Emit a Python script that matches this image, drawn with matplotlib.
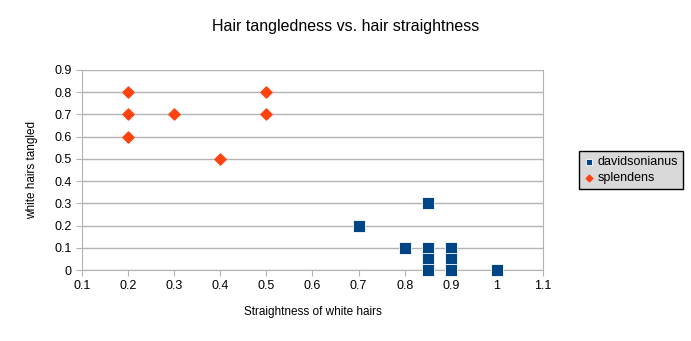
import numpy as np
import matplotlib.pyplot as plt

plt.rcParams['font.family'] = ['Liberation Sans', 'DejaVu Sans']

dav_x = [0.7, 0.8, 0.85, 0.85, 0.85, 0.85, 0.9, 0.9, 0.9, 1.0]
dav_y = [0.2, 0.1, 0.3, 0.1, 0.05, 0.0, 0.1, 0.05, 0.0, 0.0]
spl_x = [0.2, 0.2, 0.2, 0.3, 0.4, 0.5, 0.5]
spl_y = [0.8, 0.7, 0.6, 0.7, 0.5, 0.8, 0.7]

xticks = [0.1, 0.2, 0.3, 0.4, 0.5, 0.6, 0.7, 0.8, 0.9, 1, 1.1]
yticks = [0, 0.1, 0.2, 0.3, 0.4, 0.5, 0.6, 0.7, 0.8, 0.9]

fig = plt.figure(figsize=(6.91, 3.41), dpi=100)
ax = fig.add_axes([0.1187, 0.208, 0.667, 0.587])

ax.scatter(dav_x, dav_y, marker='s', s=64, color='#004586', edgecolors='white',
           linewidths=0.6, label='davidsonianus', zorder=3, clip_on=False)
ax.scatter(spl_x, spl_y, marker='D', s=32, color='#ff420e', label='splendens', zorder=3, clip_on=False)

ax.set_xlim(0.1, 1.1)
ax.set_ylim(0, 0.9)
ax.set_xticks(xticks)
ax.set_xticklabels([str(t) for t in xticks])
ax.set_yticks(yticks)
ax.set_yticklabels([str(t) for t in yticks])
ax.yaxis.grid(True, color='#b3b3b3', linewidth=1)
ax.set_axisbelow(True)
ax.spines['top'].set_visible(False)
for s in ['left', 'bottom', 'right']:
    ax.spines[s].set_color('#b3b3b3')
ax.tick_params(colors='#b3b3b3', labelcolor='black', labelsize=9, length=4)

ax.set_xlabel('Straightness of white hairs', fontsize=8.5, labelpad=10)
ax.set_ylabel('white hairs tangled', fontsize=8.5, labelpad=12)
fig.suptitle('Hair tangledness vs. hair straightness', fontsize=11.5, y=0.945)

leg = ax.legend(loc='center left', bbox_to_anchor=(1.065, 0.5), fontsize=9,
                frameon=True, fancybox=False, handletextpad=0.3, markerscale=0.6,
                handlelength=0.8, borderpad=0.4, labelspacing=0.3)
leg.get_frame().set_facecolor('#d9d9d9')
leg.get_frame().set_edgecolor('black')
leg.get_frame().set_alpha(1)

fig.savefig('out.png', dpi=100)
